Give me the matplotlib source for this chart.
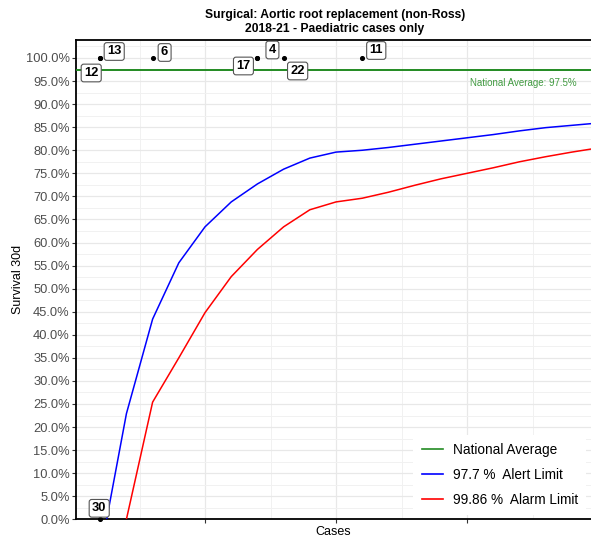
import matplotlib
matplotlib.use("Agg")
import matplotlib.pyplot as plt
from matplotlib.ticker import MultipleLocator, FuncFormatter
from matplotlib.lines import Line2D

plt.rcParams['font.family'] = ['Liberation Sans', 'DejaVu Sans']

# ---------------- data ----------------
title_line1 = "Surgical: Aortic root replacement (non-Ross)"
title_line2 = "2018-21 - Paediatric cases only"

national_average = 97.5

alert_cases = [1, 2, 3, 4, 5, 6, 7, 8, 9, 10, 11, 12, 13, 14, 15, 16, 17, 18, 19, 20]
alert_limit = [-7.5, 22.9, 43.4, 55.6, 63.4, 68.8, 72.7, 75.9, 78.3, 79.6,
               80.0, 80.6, 81.3, 82.0, 82.7, 83.4, 84.2, 84.9, 85.4, 85.9]

alarm_cases = [2, 3, 4, 5, 6, 7, 8, 9, 10, 11, 12, 13, 14, 15, 16, 17, 18, 19, 20]
alarm_limit = [0.0, 25.4, 35.0, 44.8, 52.6, 58.5, 63.4, 67.1, 68.8,
               69.6, 70.9, 72.4, 73.8, 75.0, 76.2, 77.5, 78.6, 79.6, 80.5]

hosp_labels = ["12", "13", "6", "17", "4", "22", "11", "30"]
hosp_cases = [1, 1, 3, 7, 7, 8, 11, 1]
hosp_survival = [100, 100, 100, 100, 100, 100, 100, 0]

legend_labels = ["National Average", "97.7 %  Alert Limit", "99.86 %  Alarm Limit"]

# label offsets (pixels) -- layout only
label_offsets = [(-9, -15), (14, 6.5), (12, 5.5), (-14, -8), (15, 8), (14, -13), (14, 7.5), (-1, 11)]

# ---------------- figure ----------------
W, H = 591, 538
fig = plt.figure(figsize=(W / 100, H / 100), dpi=100)
ax = fig.add_axes([76 / W, (H - 519.3) / H, (591 - 76) / W, (519.3 - 40) / H])

green = "#228B22"
ax.axhline(national_average, color=green, lw=1.4, zorder=3)
ax.plot(alert_cases, alert_limit, color="blue", lw=1.1, zorder=3)
ax.plot(alarm_cases, alarm_limit, color="red", lw=1.1, zorder=3)

ax.scatter(hosp_cases, hosp_survival, s=7, color="black", zorder=4, clip_on=False)
for lab, xc, yc, off in zip(hosp_labels, hosp_cases, hosp_survival, label_offsets):
    ax.annotate(lab, (xc, yc), xytext=off, textcoords="offset pixels",
                ha="center", va="center", fontsize=9.3, fontweight="bold",
                bbox=dict(boxstyle="round,pad=0.22,rounding_size=0.2", fc="white",
                          ec="#555555", lw=0.8), zorder=5, annotation_clip=False)

ax.text(15.1, 94.6, "National Average: 97.5%", color=green, alpha=0.85,
        fontsize=7, ha="left", va="center")

ax.set_xlim(0.076, 19.73)
ax.set_ylim(0, 103.9)

ax.yaxis.set_major_locator(MultipleLocator(5))
ax.yaxis.set_minor_locator(MultipleLocator(2.5))
ax.xaxis.set_major_locator(MultipleLocator(5))
ax.xaxis.set_minor_locator(MultipleLocator(2.5))
ax.yaxis.set_major_formatter(FuncFormatter(lambda v, p: f"{v:.1f}%"))

ax.grid(which="major", color="#e8e8e8", lw=0.9)
ax.grid(which="minor", color="#f1f1f1", lw=0.7)
ax.set_axisbelow(True)

ax.tick_params(axis="y", which="major", length=3, width=0.8, pad=1.5,
               labelsize=9.3, labelcolor="#4d4d4d", color="#333333")
ax.tick_params(axis="x", which="major", length=3, width=0.8, color="#333333",
               labelbottom=False)
ax.tick_params(which="minor", length=0)

for s in ["left", "bottom", "top"]:
    ax.spines[s].set_color("black")
    ax.spines[s].set_linewidth(1.3)
ax.spines["right"].set_visible(False)

ax.set_ylabel("Survival 30d", fontsize=9, labelpad=1)
ax.set_xlabel("Cases", fontsize=9, labelpad=1.5)

fig.text(335 / W, 1 - 15 / H, title_line1, ha="center", va="center",
         fontsize=8.7, fontweight="bold")
fig.text(335 / W, 1 - 29 / H, title_line2, ha="center", va="center",
         fontsize=8.7, fontweight="bold")

handles = [Line2D([], [], color=green, lw=1.2),
           Line2D([], [], color="blue", lw=1.2),
           Line2D([], [], color="red", lw=1.2)]
leg = ax.legend(handles, legend_labels, loc="upper left",
                bbox_to_anchor=(0.642, 0.1905), frameon=True, fontsize=9.8,
                handlelength=1.6, handletextpad=0.7, labelspacing=0.8,
                borderpad=0.6, fancybox=False)
leg.get_frame().set_facecolor("white")
leg.get_frame().set_edgecolor("none")
leg.get_frame().set_alpha(1)

fig.savefig("out.png", dpi=100)
